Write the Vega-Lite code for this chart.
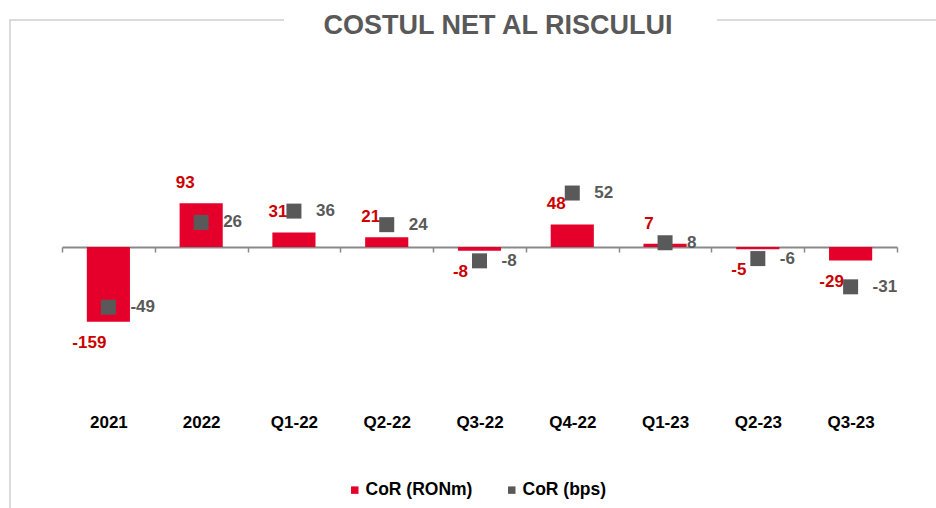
{
  "$schema": "https://vega.github.io/schema/vega-lite/v6.json",
  "autosize": "none",
  "width": 926,
  "height": 488,
  "padding": {"left": 10, "top": 20, "right": 0, "bottom": 0},
  "background": "white",
  "view": {"stroke": "#d0d0d0", "strokeWidth": 1.5, "strokeDash": [274, 433, 219, 1414, 488]},
  "config": {"font": "Liberation Sans"},
  "title": {
    "text": "COSTUL NET AL RISCULUI",
    "font": "Liberation Sans",
    "fontSize": 27,
    "fontWeight": "bold",
    "color": "#595959",
    "anchor": "middle",
    "baseline": "alphabetic",
    "offset": 0,
    "dx": 25,
    "dy": 41
  },
  "data": {
    "values": [
      {"period": "2021", "ron": -159, "bps": -49},
      {"period": "2022", "ron": 93, "bps": 26},
      {"period": "Q1-22", "ron": 31, "bps": 36},
      {"period": "Q2-22", "ron": 21, "bps": 24},
      {"period": "Q3-22", "ron": -8, "bps": -8},
      {"period": "Q4-22", "ron": 48, "bps": 52},
      {"period": "Q1-23", "ron": 7, "bps": 8},
      {"period": "Q2-23", "ron": -5, "bps": -6},
      {"period": "Q3-23", "ron": -29, "bps": -31}
    ]
  },
  "encoding": {
    "x": {
      "field": "period",
      "type": "ordinal",
      "sort": null,
      "scale": {"range": [52, 887], "paddingInner": 0, "paddingOuter": 0},
      "axis": {
        "title": null,
        "orient": "bottom",
        "offset": -261,
        "domainColor": "#898989",
        "domainWidth": 2,
        "ticks": true,
        "tickBand": "extent",
        "tickColor": "#898989",
        "tickWidth": 1.5,
        "tickSize": 5,
        "grid": false,
        "labelAngle": 0,
        "labelFont": "Liberation Sans",
        "labelFontSize": 17,
        "labelFontWeight": "bold",
        "labelColor": "#000000",
        "labelBaseline": "top",
        "labelPadding": 162
      }
    }
  },
  "layer": [
    {
      "encoding": {
        "y": {"field": "ron", "type": "quantitative", "scale": {"domain": [-555.6, 483.2], "nice": false, "zero": false}, "axis": null}
      },
      "layer": [
        {
          "mark": {"type": "bar", "width": {"band": 0.465}},
          "encoding": {
            "color": {
              "datum": "CoR (RONm)",
              "type": "nominal",
              "scale": {"domain": ["CoR (RONm)", "CoR (bps)"], "range": ["#E4002B", "#595959"]},
              "legend": {
                "title": null,
                "orient": "none",
                "direction": "horizontal",
                "legendX": 336,
                "legendY": 461,
                "padding": 0,
                "symbolType": "square",
                "symbolSize": 56,
                "symbolStrokeWidth": 0,
                "labelFont": "Liberation Sans",
                "labelFontSize": 17.5,
                "labelFontWeight": "bold",
                "labelColor": "#000000",
                "labelOffset": 2,
                "columnPadding": 30
              }
            }
          }
        },
        {
          "transform": [{"filter": "datum.ron >= 0"}],
          "mark": {"type": "text", "font": "Liberation Sans", "fontSize": 17, "fontWeight": "bold", "color": "#CC0000", "baseline": "middle", "align": "center", "dx": -16, "dy": -20},
          "encoding": {"text": {"field": "ron", "type": "nominal"}}
        },
        {
          "transform": [{"filter": "datum.ron < 0"}],
          "mark": {"type": "text", "font": "Liberation Sans", "fontSize": 17, "fontWeight": "bold", "color": "#CC0000", "baseline": "middle", "align": "center", "dx": -19, "dy": 21},
          "encoding": {"text": {"field": "ron", "type": "nominal"}}
        }
      ]
    },
    {
      "encoding": {
        "y": {"field": "bps", "type": "quantitative", "scale": {"domain": [-226.7, 205.1], "nice": false, "zero": false}, "axis": null}
      },
      "layer": [
        {
          "mark": {"type": "point", "shape": "square", "filled": true, "size": 225, "opacity": 1},
          "encoding": {
            "color": {"datum": "CoR (bps)", "type": "nominal"}
          }
        },
        {
          "mark": {"type": "text", "font": "Liberation Sans", "fontSize": 17, "fontWeight": "bold", "color": "#595959", "baseline": "middle", "align": "left", "dx": 22},
          "encoding": {"text": {"field": "bps", "type": "nominal"}}
        }
      ]
    }
  ],
  "resolve": {"scale": {"y": "independent"}}
}
